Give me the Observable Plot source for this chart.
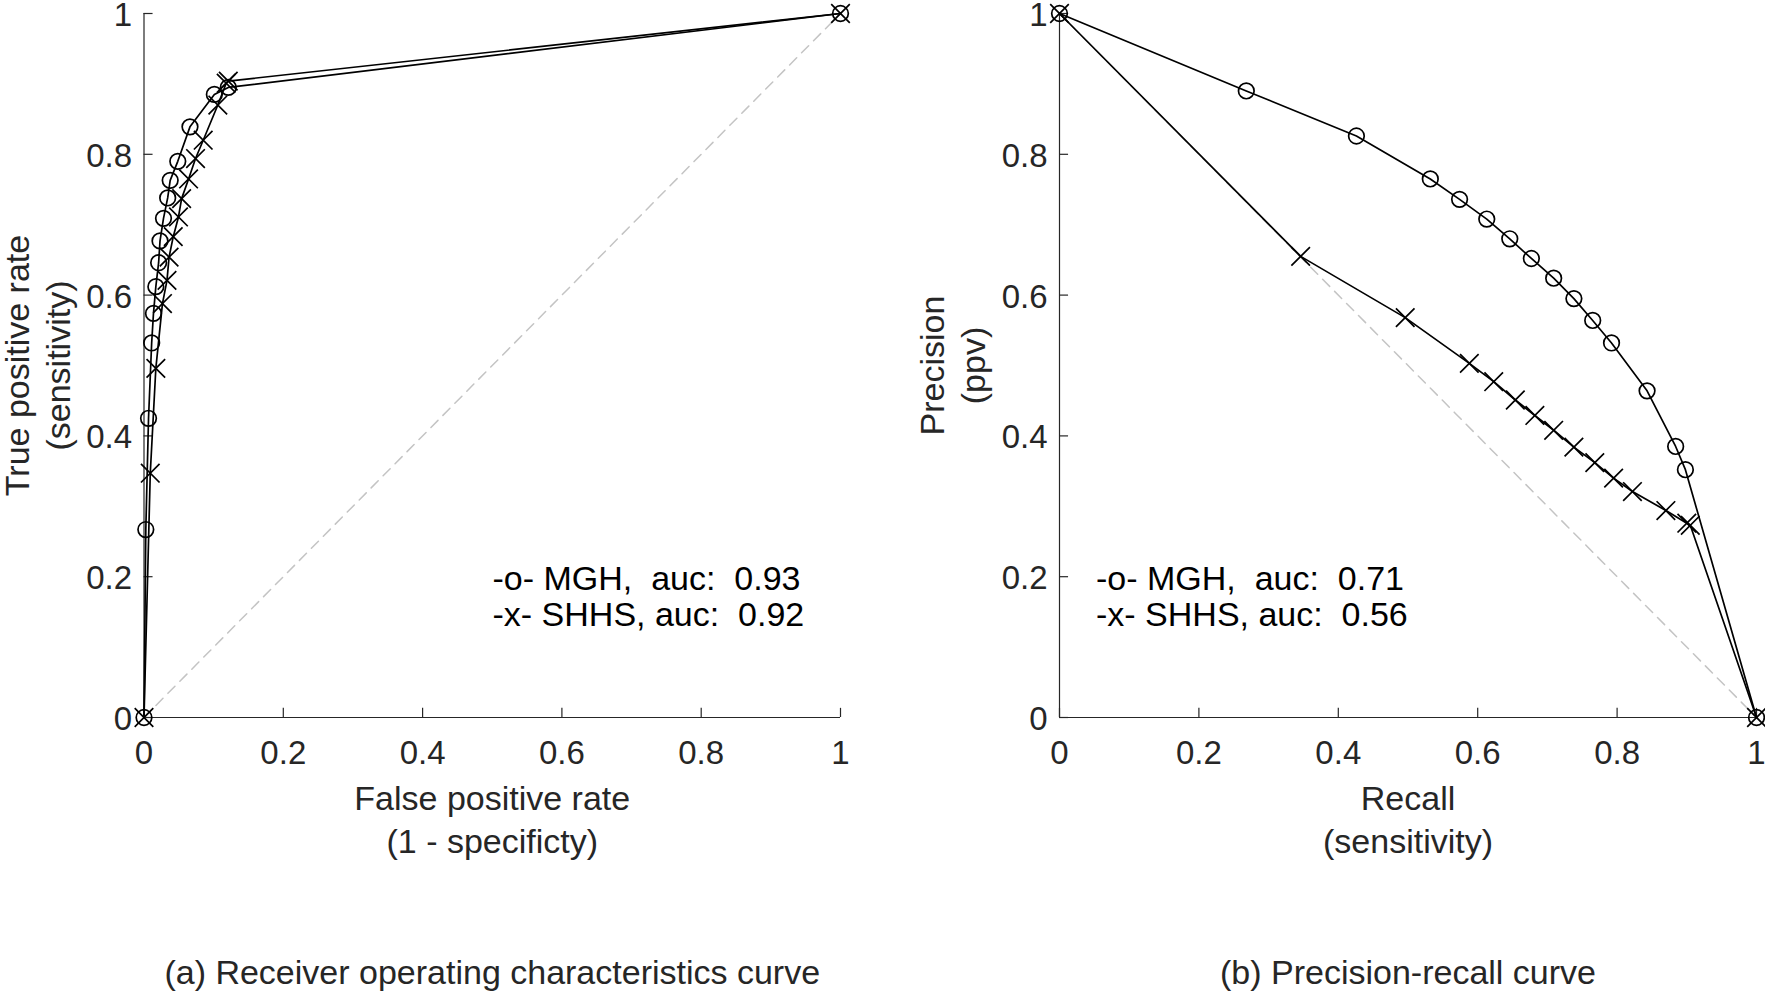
<!DOCTYPE html>
<html>
<head>
<meta charset="utf-8">
<script src="https://cdn.jsdelivr.net/npm/d3@7"></script>
<script src="https://cdn.jsdelivr.net/npm/@observablehq/plot@0.6"></script>
<style>
  html, body { margin: 0; padding: 0; background: #fff; }
  #wrap { display: flex; width: 1765px; height: 994px; }
  svg text { white-space: pre; }
</style>
</head>
<body>
<div id="wrap"></div>
<script>
// ---- data ----
const ticks = [0, 0.2, 0.4, 0.6, 0.8, 1];

// (a) ROC
const rocMghFpr  = [0, 0.0026, 0.0065, 0.011, 0.0136, 0.017, 0.021, 0.023, 0.028, 0.034, 0.0376, 0.0485, 0.066, 0.101, 0.121, 1];
const rocMghTpr  = [0, 0.267, 0.425, 0.532, 0.574, 0.612, 0.646, 0.677, 0.709, 0.738, 0.763, 0.790, 0.839, 0.885, 0.895, 1];
const rocShhsFpr = [0, 0.009, 0.017, 0.0265, 0.033, 0.036, 0.042, 0.0495, 0.054, 0.064, 0.074, 0.085, 0.106, 0.118, 0.121, 1];
const rocShhsTpr = [0, 0.347, 0.496, 0.588, 0.621, 0.654, 0.683, 0.711, 0.737, 0.765, 0.794, 0.820, 0.870, 0.901, 0.904, 1];
const rocChanceX = [0, 1];
const rocChanceY = [0, 1];

// (b) Precision-recall
const prMghRecall     = [0, 0.268, 0.426, 0.532, 0.574, 0.613, 0.646, 0.677, 0.709, 0.738, 0.765, 0.792, 0.843, 0.884, 0.898, 1];
const prMghPrecision  = [1, 0.890, 0.826, 0.765, 0.736, 0.708, 0.680, 0.652, 0.624, 0.595, 0.564, 0.532, 0.464, 0.385, 0.352, 0];
const prShhsRecall    = [0, 0.346, 0.496, 0.588, 0.623, 0.654, 0.682, 0.709, 0.738, 0.768, 0.795, 0.822, 0.870, 0.900, 0.905, 1];
const prShhsPrecision = [1, 0.655, 0.568, 0.503, 0.477, 0.451, 0.429, 0.408, 0.384, 0.362, 0.340, 0.321, 0.294, 0.276, 0.273, 0];
const prChanceX = [0, 1];
const prChanceY = [1, 0];

// texts
const rocXLabel = ["False positive rate", "(1 - specificty)"];
const rocYLabel = ["True positive rate", "(sensitivity)"];
const rocLegend = ["-o- MGH,  auc:  0.93", "-x- SHHS, auc:  0.92"];
const rocCaption = "(a) Receiver operating characteristics curve";
const prXLabel = ["Recall", "(sensitivity)"];
const prYLabel = ["Precision", "(ppv)"];
const prLegend = ["-o- MGH,  auc:  0.71", "-x- SHHS, auc:  0.56"];
const prCaption = "(b) Precision-recall curve";

const zip = (xs, ys) => xs.map((x, i) => ({x, y: ys[i]}));

const AX = "#262626";
const FONT = "'Liberation Sans', Arial, Helvetica, sans-serif";
const TOP = 13;

function panel(o) {
  const mgh = zip(o.mghX, o.mghY);
  const shhs = zip(o.shhsX, o.shhsY);
  const chance = zip(o.chanceX, o.chanceY);
  return Plot.plot({
    width: o.width, height: 994,
    marginLeft: o.marginLeft, marginRight: o.marginRight,
    marginTop: TOP, marginBottom: 277,
    x: {domain: [0, 1], axis: null},
    y: {domain: [0, 1], axis: null},
    style: {fontFamily: FONT, background: "white", color: AX, overflow: "visible"},
    marks: [
      Plot.line(chance, {x: "x", y: "y", stroke: "#c4c4c4", strokeWidth: 1.5, strokeDasharray: "10,7"}),
      Plot.ruleX([0], {stroke: AX, strokeWidth: 1.2}),
      Plot.ruleY([0], {stroke: AX, strokeWidth: 1.2}),
      Plot.ruleY(ticks, {y: d => d, x1: 0, x2: 0.013, stroke: AX, strokeWidth: 1.2}),
      Plot.ruleX(ticks, {x: d => d, y1: 0, y2: 0.013, stroke: AX, strokeWidth: 1.2}),
      Plot.axisX({ticks, tickFormat: d => String(d), tickSize: 0, tickPadding: 23, fontSize: 33, label: null}),
      Plot.axisY({ticks, tickFormat: d => String(d), tickSize: 0, tickPadding: 12, fontSize: 33, dy: 2, label: null}),
      Plot.line(mgh, {x: "x", y: "y", stroke: "black", strokeWidth: 1.7}),
      Plot.line(shhs, {x: "x", y: "y", stroke: "black", strokeWidth: 1.7}),
      Plot.dot(mgh, {x: "x", y: "y", symbol: "circle", r: 7.8, stroke: "black", fill: "none", strokeWidth: 1.7}),
      Plot.dot(shhs, {x: "x", y: "y", symbol: "times", r: 8.5, stroke: "black", strokeWidth: 1.7}),
      // axis labels
      Plot.text([o.xLabel[0]], {frameAnchor: "bottom", dy: 82, fontSize: 34, fill: AX, textAnchor: "middle", lineAnchor: "middle"}),
      Plot.text([o.xLabel[1]], {frameAnchor: "bottom", dy: 125, fontSize: 34, fill: AX, textAnchor: "middle", lineAnchor: "middle"}),
      Plot.text([o.yLabel[0]], {frameAnchor: "left", rotate: -90, dx: -126, fontSize: 34, fill: AX, textAnchor: "middle", lineAnchor: "middle"}),
      Plot.text([o.yLabel[1]], {frameAnchor: "left", rotate: -90, dx: -85, fontSize: 34, fill: AX, textAnchor: "middle", lineAnchor: "middle"}),
      // legend text
      Plot.text([o.legend[0]], {frameAnchor: "top-left", dx: o.legendDx, dy: 578.6 - TOP, textAnchor: "start", lineAnchor: "middle", fontSize: 34, fill: "black"}),
      Plot.text([o.legend[1]], {frameAnchor: "top-left", dx: o.legendDx, dy: 614.6 - TOP, textAnchor: "start", lineAnchor: "middle", fontSize: 34, fill: "black"}),
      // caption
      Plot.text([o.caption], {frameAnchor: "bottom", dy: 256, fontSize: 34, fill: AX, textAnchor: "middle", lineAnchor: "middle"})
    ]
  });
}

const wrap = document.getElementById("wrap");
wrap.append(panel({
  width: 882, marginLeft: 143.5, marginRight: 42,
  mghX: rocMghFpr, mghY: rocMghTpr, shhsX: rocShhsFpr, shhsY: rocShhsTpr,
  chanceX: rocChanceX, chanceY: rocChanceY,
  xLabel: rocXLabel, yLabel: rocYLabel, legend: rocLegend, caption: rocCaption,
  legendDx: 348.5
}));
wrap.append(panel({
  width: 883, marginLeft: 177, marginRight: 9,
  mghX: prMghRecall, mghY: prMghPrecision, shhsX: prShhsRecall, shhsY: prShhsPrecision,
  chanceX: prChanceX, chanceY: prChanceY,
  xLabel: prXLabel, yLabel: prYLabel, legend: prLegend, caption: prCaption,
  legendDx: 36.5
}));
</script>
</body>
</html>
